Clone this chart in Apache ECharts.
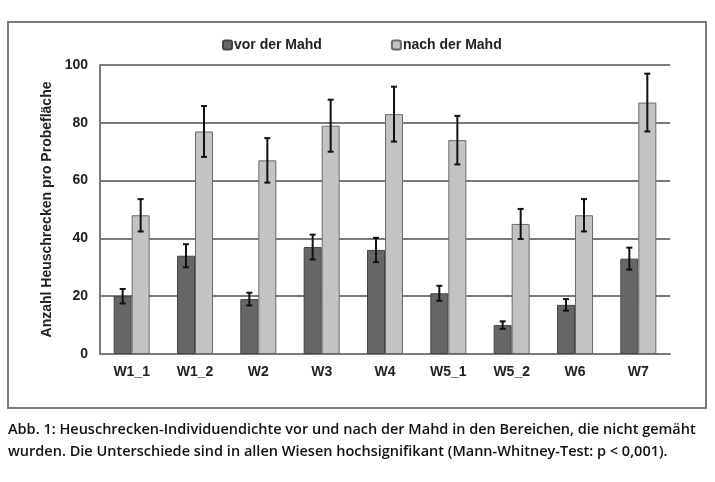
<!DOCTYPE html>
<html>
<head>
<meta charset="utf-8">
<script src="https://cdn.jsdelivr.net/npm/echarts@6/dist/echarts.min.js"></script>
<style>
  html, body { margin: 0; padding: 0; background: #fff; }
  #chart { width: 715px; height: 482px; }
</style>
</head>
<body>
<div id="chart"></div>
<script>
const categories = ['W1_1', 'W1_2', 'W2', 'W3', 'W4', 'W5_1', 'W5_2', 'W6', 'W7']
const vorMean = [20, 34, 19, 37, 36, 21, 10, 17, 33]
const vorErr = [2.5, 4, 2.2, 4.3, 4.2, 2.6, 1.3, 2, 3.8]
const nachMean = [48, 77, 67, 79, 83, 74, 45, 48, 87]
const nachErr = [5.6, 8.8, 7.7, 9, 9.5, 8.4, 5.2, 5.6, 10]
const yTicks = [0, 20, 40, 60, 80, 100]

const BAR_W = 18
const chart = echarts.init(document.getElementById('chart'))

function errData(mean, err) {
  return mean.map((m, i) => [i, m - err[i], m + err[i]])
}

function errRenderer(offset) {
  return function (params, api) {
    const lo = api.coord([api.value(0), api.value(1)])
    const hi = api.coord([api.value(0), api.value(2)])
    const x = lo[0] + offset
    const style = { stroke: '#111', lineWidth: 2 }
    return {
      type: 'group',
      children: [
        { type: 'line', shape: { x1: x, y1: lo[1], x2: x, y2: hi[1] }, style },
        { type: 'line', shape: { x1: x - 3, y1: lo[1], x2: x + 3, y2: lo[1] }, style },
        { type: 'line', shape: { x1: x - 3, y1: hi[1], x2: x + 3, y2: hi[1] }, style }
      ]
    }
  }
}

const font = 'Liberation Sans, Arial, sans-serif'

chart.setOption({
  animation: false,
  legend: {
    data: ['vor der Mahd', 'nach der Mahd'],
    left: 217,
    top: 33,
    itemWidth: 9,
    itemHeight: 9,
    itemGap: 69,
    textStyle: { fontFamily: font, fontWeight: 'bold', fontSize: 14, color: '#222', padding: [0, 0, 0, -3] }
  },
  grid: { left: 100, right: 45, top: 65, bottom: 128 },
  xAxis: {
    type: 'category',
    data: categories,
    axisLine: { lineStyle: { color: '#7a7a7a', width: 2 } },
    axisTick: { show: false },
    axisLabel: { fontFamily: font, fontWeight: 'bold', fontSize: 14, color: '#222', margin: 11 }
  },
  yAxis: {
    type: 'value',
    min: 0,
    max: 100,
    interval: 20,
    name: 'Anzahl Heuschrecken pro Probefläche',
    nameLocation: 'middle',
    nameGap: 39,
    nameTextStyle: { fontFamily: font, fontWeight: 'bold', fontSize: 14, color: '#222' },
    axisLine: { show: true, lineStyle: { color: '#7a7a7a', width: 2 } },
    axisTick: { show: false },
    axisLabel: {
      fontFamily: font, fontWeight: 'bold', fontSize: 14, color: '#222', margin: 12,
      formatter: v => yTicks.includes(v) ? String(v) : ''
    },
    splitLine: { lineStyle: { color: '#7a7a7a', width: 2 } }
  },
  series: [
    {
      name: 'vor der Mahd',
      type: 'bar',
      data: vorMean,
      barWidth: BAR_W,
      barGap: '0%',
      itemStyle: { color: '#666666', borderColor: '#444', borderWidth: 1 }
    },
    {
      name: 'nach der Mahd',
      type: 'bar',
      data: nachMean,
      barWidth: BAR_W,
      barGap: '0%',
      itemStyle: { color: '#c3c3c3', borderColor: '#6a6a6a', borderWidth: 1 }
    },
    {
      type: 'custom',
      renderItem: errRenderer(-BAR_W / 2),
      data: errData(vorMean, vorErr),
      encode: { x: 0, y: [1, 2] },
      z: 10
    },
    {
      type: 'custom',
      renderItem: errRenderer(BAR_W / 2),
      data: errData(nachMean, nachErr),
      encode: { x: 0, y: [1, 2] },
      z: 10
    }
  ],
  graphic: [
    {
      type: 'rect',
      shape: { x: 8, y: 22, width: 698, height: 386 },
      style: { fill: 'none', stroke: '#7a7a7a', lineWidth: 2 },
      silent: true
    },
    {
      type: 'text',
      left: 8,
      top: 419,
      style: {
        text: 'Abb. 1: Heuschrecken-Individuendichte vor und nach der Mahd in den Bereichen, die nicht gemäht\nwurden. Die Unterschiede sind in allen Wiesen hochsignifikant (Mann-Whitney-Test: p < 0,001).',
        font: '600 14.5px "Open Sans", sans-serif',
        lineHeight: 22,
        fill: '#111'
      }
    }
  ]
})
</script>
</body>
</html>
